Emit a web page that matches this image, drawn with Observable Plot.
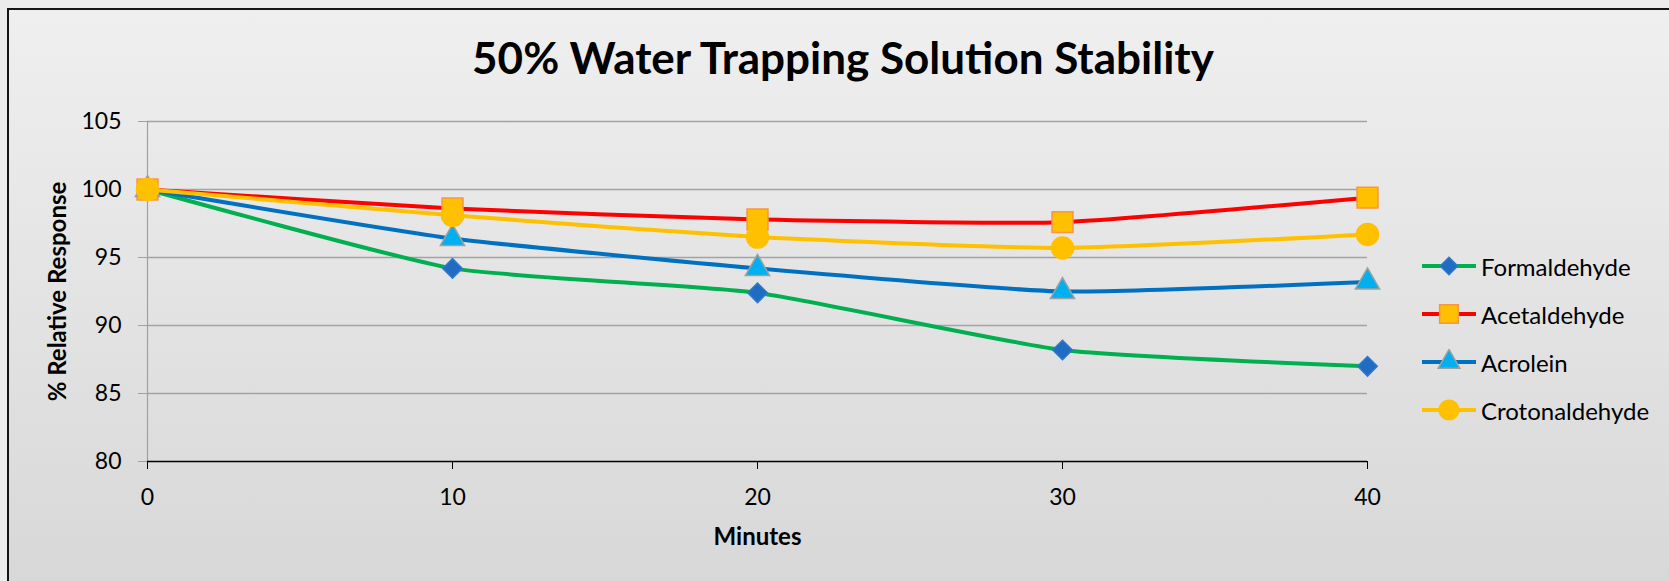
<!DOCTYPE html>
<html>
<head>
<meta charset="utf-8">
<script src="https://cdn.jsdelivr.net/npm/d3@7"></script>
<script src="https://cdn.jsdelivr.net/npm/@observablehq/plot@0.6"></script>
<style>
  html, body { margin: 0; padding: 0; width: 1669px; height: 581px; overflow: hidden; background: #ececec; font-family: Lato, "Open Sans", sans-serif; }
  #frame { position: absolute; left: 7px; top: 8px; width: 1720px; height: 640px; border-top: 2px solid #141414; border-left: 2px solid #141414; background: linear-gradient(to bottom, #efefef 0%, #d5d5d5 100%); }
  #chart { position: absolute; left: 0; top: 0; }
  #title { position: absolute; left: 0; width: 1686px; top: 31px; text-align: center; font-size: 44px; line-height: normal; font-weight: bold; color: #000; }
  #legend { position: absolute; left: 1422px; top: 242px; }
  .row { display: flex; align-items: center; height: 48px; }
  .row svg { display: block; margin-right: 5px; }
  .row span { font-size: 24px; color: #000; }
</style>
</head>
<body>
<div id="frame"></div>
<div id="chart"></div>
<div id="title">50% Water Trapping Solution Stability</div>
<div id="legend"></div>
<script>
// Sampling times (minutes) and % relative response for each aldehyde
const minutes = [0, 10, 20, 30, 40];
const seriesNames = ["Formaldehyde", "Acetaldehyde", "Acrolein", "Crotonaldehyde"];
const formaldehyde = [100, 94.2, 92.4, 88.2, 87.0];
const acetaldehyde = [100, 98.6, 97.8, 97.6, 99.4];
const acrolein = [100, 96.4, 94.2, 92.5, 93.2];
const crotonaldehyde = [100, 98.1, 96.5, 95.7, 96.7];
const yTicks = [80, 85, 90, 95, 100, 105];
const xTicks = [0, 10, 20, 30, 40];

const seriesValues = [formaldehyde, acetaldehyde, acrolein, crotonaldehyde];

// Line colour and marker look per series
const looks = {
  Formaldehyde:   {line: "#00b050", symbol: "diamond2", fill: "#1f6cc2", stroke: "#2f78cc", r: 8.8},
  Acetaldehyde:   {line: "#ff0000", symbol: "square",   fill: "#ffc000", stroke: "#f79646", r: 11.8},
  Acrolein:       {line: "#0070c0", symbol: "triangle", fill: "#00b0f0", stroke: "#a0a0a0", r: 9.0},
  Crotonaldehyde: {line: "#ffc000", symbol: "circle",   fill: "#ffc000", stroke: "#ffc000", r: 11}
};

const rows = seriesNames.flatMap((name, i) =>
  minutes.map((m, j) => ({series: name, minute: m, value: seriesValues[i][j]})));

// Gently smoothed lines
const lines = seriesNames.map(name => Plot.line(rows.filter(d => d.series === name), {
  x: "minute", y: "value", stroke: looks[name].line, strokeWidth: 4, curve: "cardinal", tension: 0.5
}));
const dots = seriesNames.map(name => Plot.dot(rows.filter(d => d.series === name), {
  x: "minute", y: "value", symbol: looks[name].symbol, r: looks[name].r,
  fill: looks[name].fill, stroke: looks[name].stroke, strokeWidth: 1.5
}));

const chart = Plot.plot({
  width: 1669,
  height: 581,
  marginLeft: 147,
  marginRight: 302,
  marginTop: 121,
  marginBottom: 120,
  style: {background: "transparent", fontFamily: "Lato, 'Open Sans', sans-serif", overflow: "visible"},
  x: {domain: [0, 40]},
  y: {domain: [80, 105]},
  marks: [
    Plot.ruleY(yTicks.filter(t => t > 80), {stroke: "#a3a3a3", strokeWidth: 1.3}),
    Plot.ruleX([0], {stroke: "#a0a0a0", strokeWidth: 1.2}),
    Plot.axisY({ticks: yTicks, tickSize: 9, tickPadding: 17, stroke: "#a0a0a0", fill: "#000", fontSize: 23, label: null}),
    Plot.ruleY([80], {stroke: "#000", strokeWidth: 1.5}),
    Plot.axisX({ticks: xTicks, tickSize: 8, tickPadding: 19, stroke: "#000", fill: "#000", fontSize: 23, label: null}),
    ...lines,
    ...dots,
    Plot.text(["% Relative Response"], {frameAnchor: "left", rotate: -90, dx: -89, textAnchor: "middle", lineAnchor: "middle", fontSize: 24, fontWeight: "bold", fill: "#000"}),
    Plot.text(["Minutes"], {frameAnchor: "bottom", dy: 76, textAnchor: "middle", lineAnchor: "middle", fontSize: 24, fontWeight: "bold", fill: "#000"})
  ]
});
document.getElementById("chart").appendChild(chart);

// Legend: line sample with the series marker, then the name
const symbolTypes = {diamond2: d3.symbolDiamond2, square: d3.symbolSquare, triangle: d3.symbolTriangle, circle: d3.symbolCircle};
const legend = d3.select("#legend");
for (const name of seriesNames) {
  const look = looks[name];
  const row = legend.append("div").attr("class", "row");
  const svg = row.append("svg").attr("width", 54).attr("height", 26);
  svg.append("line").attr("x1", 0).attr("x2", 54).attr("y1", 13).attr("y2", 13)
    .attr("stroke", look.line).attr("stroke-width", 4);
  svg.append("path")
    .attr("transform", "translate(27,13)")
    .attr("d", d3.symbol(symbolTypes[look.symbol], Math.PI * look.r * look.r * 0.8)())
    .attr("fill", look.fill).attr("stroke", look.stroke).attr("stroke-width", 1.5);
  row.append("span").text(name);
}
</script>
</body>
</html>
